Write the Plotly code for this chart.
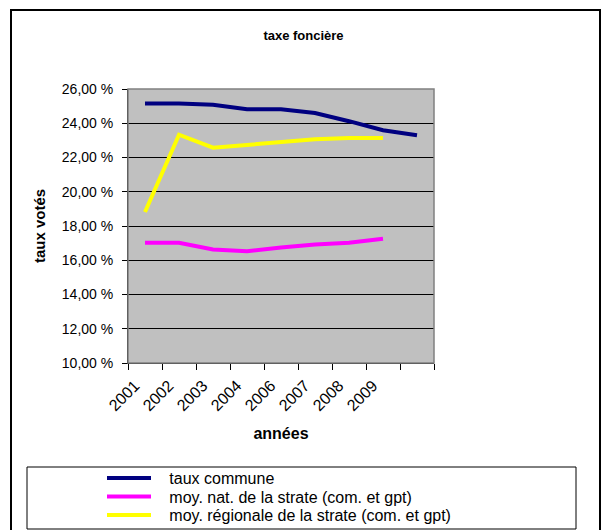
import plotly.graph_objects as go

# ---- data ----
categories = ["2001", "2002", "2003", "2004", "2006", "2007", "2008", "2009", ""]
taux_commune = [25.16, 25.16, 25.08, 24.82, 24.82, 24.60, 24.12, 23.59, 23.30]
moy_nat = [17.02, 17.02, 16.63, 16.53, 16.75, 16.92, 17.02, 17.25]
moy_reg = [18.82, 23.33, 22.57, 22.73, 22.86, 23.06, 23.14, 23.14]
series_names = ["taux commune",
                "moy. nat. de la strate (com. et gpt)",
                "moy. régionale de la strate (com. et gpt)"]
y_ticks = [10, 12, 14, 16, 18, 20, 22, 24, 26]
y_ticktext = [f"{v:.2f}".replace(".", ",") + " %" for v in y_ticks]

W, H = 607, 530
L, R, T, B = 128, 173, 89, 167
PW, PH = W - L - R, H - T - B


def px(x):
    return (x - L) / PW


def py(y):
    return (H - B - y) / PH


fig = go.Figure()
colors = ["#000080", "#FF00FF", "#FFFF00"]
data = [taux_commune, moy_nat, moy_reg]
legends = ["legend", "legend2", "legend3"]
pad = "\u00a0\u00a0\u00a0"
for name, vals, col, lg in zip(series_names, data, colors, legends):
    fig.add_trace(go.Scatter(
        x=list(range(len(vals))), y=vals, mode="lines", name=pad + name,
        line=dict(color=col, width=4), legend=lg, hoverinfo="skip"))

font_family = "Liberation Sans, Arial, sans-serif"
leg_rows = [478, 496.5, 515]
legend_layout = {}
for lg, yy in zip(legends, leg_rows):
    legend_layout[lg] = dict(
        x=px(102), y=py(yy), xanchor="left", yanchor="middle",
        bgcolor="rgba(0,0,0,0)", borderwidth=0,
        font=dict(family=font_family, size=16, color="black"),
        itemwidth=44, tracegroupgap=0)

shapes = [
    # outer chart border
    dict(type="rect", xref="paper", yref="paper", x0=px(11), x1=px(600),
         y0=py(545), y1=py(10), line=dict(color="black", width=2)),
    # plot area border (gray)
    dict(type="rect", xref="paper", yref="paper", x0=0, x1=1, y0=0, y1=1,
         line=dict(color="#808080", width=1.5)),
    # legend box
    dict(type="rect", xref="paper", yref="paper", x0=px(27), x1=px(576),
         y0=py(529), y1=py(467), line=dict(color="black", width=1)),
]

fig.update_layout(
    width=W, height=H,
    margin=dict(l=L, r=R, t=T, b=B, pad=0, autoexpand=False),
    paper_bgcolor="white", plot_bgcolor="#C0C0C0",
    font=dict(family=font_family, color="black"),
    title=dict(text="<b>taxe foncière</b>", x=0.5, xanchor="center",
               y=1 - 35 / H, yanchor="middle",
               font=dict(size=13, family=font_family, color="black")),
    showlegend=True,
    shapes=shapes,
    **legend_layout,
)

fig.update_xaxes(
    range=[-0.5, len(categories) - 0.5],
    tickmode="array", tickvals=list(range(len(categories))), ticktext=categories,
    tickangle=-45, ticks="", showgrid=False, zeroline=False,
    ticklabelstandoff=6, ticklabelshift=-10,
    showline=True, linecolor="black", linewidth=1,
    tickfont=dict(size=16, family=font_family, color="black"),
    minor=dict(ticks="outside", tickmode="linear", tick0=-0.5, dtick=1,
               ticklen=6, tickcolor="black", tickwidth=1, showgrid=False),
    title=dict(text="<b>années</b>", standoff=14,
               font=dict(size=16, family=font_family, color="black")),
)
fig.update_yaxes(
    range=[10, 26], tickmode="array", tickvals=y_ticks, ticktext=y_ticktext,
    ticks="outside", ticklen=5, tickcolor="black",
    ticklabelstandoff=6,
    showgrid=True, gridcolor="black", gridwidth=1, zeroline=False,
    showline=True, linecolor="black", linewidth=1,
    tickfont=dict(size=14, family=font_family, color="black"),
    title=dict(text="<b>taux votés</b>", standoff=12,
               font=dict(size=15, family=font_family, color="black")),
)

fig.write_html("out.html")
